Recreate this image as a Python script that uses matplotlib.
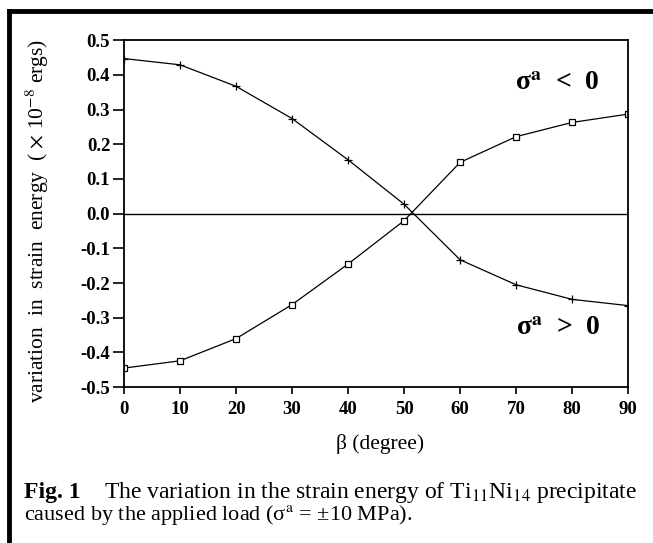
# Strain energy variation vs beta, Ti11Ni14 precipitate (Fig. 1)

import numpy as np
import matplotlib
matplotlib.use('Agg')
import matplotlib.pyplot as plt
from matplotlib.lines import Line2D

plt.rcParams['font.family'] = ['Liberation Serif', 'DejaVu Serif']
plt.rcParams['mathtext.fontset'] = 'stix'
plt.rcParams['axes.unicode_minus'] = False

# data
beta = [0, 10, 20, 30, 40, 50, 60, 70, 80, 90]
e_plus = [0.447, 0.429, 0.367, 0.274, 0.155, 0.027, -0.133, -0.205, -0.247, -0.265]   # '+' markers
e_square = [-0.445, -0.424, -0.360, -0.262, -0.145, -0.020, 0.148, 0.222, 0.263, 0.287]  # square markers
x_ticks = [0, 10, 20, 30, 40, 50, 60, 70, 80, 90]
y_ticks = [-0.5, -0.4, -0.3, -0.2, -0.1, 0.0, 0.1, 0.2, 0.3, 0.4, 0.5]

fig = plt.figure(figsize=(6.53, 5.43), dpi=100)
ax = fig.add_axes([0.190, 0.287, 0.772, 0.639])

ax.plot(beta, e_plus, color='black', lw=0.9, marker='+', ms=6, mew=0.9)
ax.plot(beta, e_square, color='black', lw=0.9, marker='s', ms=4.5, mfc='white', mew=0.9)
ax.axhline(0, color='black', lw=1.0)

ax.set_xlim(0, 90)
ax.set_ylim(-0.5, 0.5)
ax.set_xticks(x_ticks)
ax.set_yticks(y_ticks)
ax.set_yticklabels([f'{v:.1f}' for v in y_ticks])
ax.tick_params(direction='out', width=1.2, labelsize=13.5)
ax.tick_params(axis='y', length=8, pad=2)
ax.tick_params(axis='x', length=5, pad=5)
for lab in ax.get_xticklabels() + ax.get_yticklabels():
    lab.set_fontweight('bold')
for s in ax.spines.values():
    s.set_linewidth(1.3)

ax.set_xlabel('β (degree)', fontsize=15.5)
ax.xaxis.set_label_coords(0.508, -0.135)
ax.set_ylabel(r'variation  in  strain  energy  ( $\times$ 10$^{-8}$ ergs)', fontsize=15.5)
ax.yaxis.set_label_coords(-0.145, 0.48)

ax.text(0.859, 0.876, 'σ$^{\\mathbf{a}}$  <  0', transform=ax.transAxes,
        ha='center', va='center', fontsize=20, fontweight='bold')
ax.text(0.862, 0.17, 'σ$^{\\mathbf{a}}$  >  0', transform=ax.transAxes,
        ha='center', va='center', fontsize=20, fontweight='bold')

# frame of the figure box (top and left)
fig.add_artist(Line2D([0.0145, 1.0], [0.98, 0.98], color='black', lw=3.5, transform=fig.transFigure))
fig.add_artist(Line2D([0.0145, 0.0145], [0.0, 0.98], color='black', lw=3.5, transform=fig.transFigure))

# caption
fig.text(0.036, 0.083, 'Fig. 1', fontsize=17, fontweight='bold', va='baseline')
fig.text(0.159, 0.083, r'The variation in the strain energy of Ti$_{11}$Ni$_{14}$ precipitate',
         fontsize=17, va='baseline')
fig.text(0.036, 0.043, r'caused by the applied load (σ$^{\mathrm{a}}$ = ±10 MPa).',
         fontsize=16, va='baseline')

fig.savefig('out.png', dpi=100)
